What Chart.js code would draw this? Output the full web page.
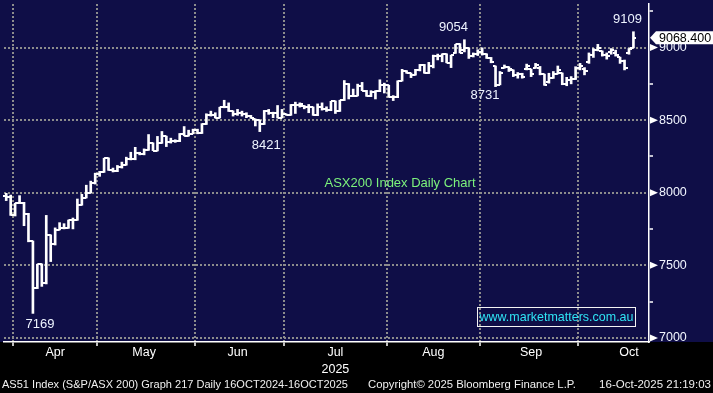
<!DOCTYPE html>
<html>
<head>
<meta charset="utf-8">
<script src="https://cdn.jsdelivr.net/npm/chart.js@4.4.1/dist/chart.umd.min.js"></script>
<style>
  html, body { margin: 0; padding: 0; background: #000; overflow: hidden; }
  #wrap { width: 713px; height: 393px; }
</style>
</head>
<body>
<div id="wrap"><canvas id="chart" width="713" height="393"></canvas></div>
<script>
// trading days shown (ASX), by month
const marDays = [28, 31];
const aprDays = [1, 2, 3, 4, 7, 8, 9, 10, 11, 14, 15, 16, 17, 22, 23, 24, 28, 29, 30];
const mayDays = [1, 2, 5, 6, 7, 8, 9, 12, 13, 14, 15, 16, 19, 20, 21, 22, 23, 26, 27, 28, 29, 30];
const junDays = [2, 3, 4, 5, 6, 10, 11, 12, 13, 16, 17, 18, 19, 20, 23, 24, 25, 26, 27, 30];
const julDays = [1, 2, 3, 4, 7, 8, 9, 10, 11, 14, 15, 16, 17, 18, 21, 22, 23, 24, 25, 28, 29, 30, 31];
const augDays = [1, 4, 5, 6, 7, 8, 11, 12, 13, 14, 15, 18, 19, 20, 21, 22, 25, 26, 27, 28, 29];
const sepDays = [1, 2, 3, 4, 5, 8, 9, 10, 11, 12, 15, 16, 17, 18, 19, 22, 23, 24, 25, 26, 29, 30];
const octDays = [1, 2, 3, 6, 7, 8, 9, 10, 13, 14, 15, 16, 17];

const opens = [
  7975, 7973,
  7844, 7930, 7932, 7855, 7665, 7345, 7508, 7375, 7708, 7644, 7746, 7758, 7758, 7812, 7812, 7916, 7966, 8000, 8066,
  8127, 8143, 8238, 8154, 8147, 8177, 8193, 8229, 8229, 8272, 8268, 8295, 8342, 8290, 8342, 8388, 8347, 8358, 8354, 8404, 8392, 8408,
  8433, 8410, 8472, 8533, 8535, 8517, 8589, 8589, 8562, 8544, 8546, 8544, 8528, 8508, 8499, 8472, 8562, 8551, 8551, 8517,
  8540, 8535, 8601, 8601, 8599, 8589, 8589, 8533, 8589, 8578, 8567, 8630, 8562, 8637, 8750, 8664, 8669, 8737, 8703, 8664, 8692, 8698, 8744,
  8739, 8657, 8657, 8771, 8839, 8823, 8812, 8846, 8880, 8823, 8873, 8940, 8943, 8955, 8895, 8963, 9022, 8985, 8995, 8940, 8955,
  8970, 8955, 8930, 8873, 8745, 8860, 8865, 8845, 8810, 8820, 8850, 8850, 8860, 8860, 8815, 8760, 8790, 8820, 8823, 8750, 8778, 8785,
  8862, 8855, 8900, 8950, 8985, 8975, 8950, 8970, 8965, 8932, 8905, 8960, 9000
];
const highs = [
  7996, 7984,
  7928, 7980, 7934, 7858, 7668, 7508, 7510, 7844, 7710, 7758, 7794, 7787, 7812, 7826, 7957, 7989, 8052, 8080, 8135,
  8147, 8238, 8240, 8170, 8188, 8211, 8245, 8279, 8313, 8279, 8302, 8401, 8344, 8388, 8422, 8390, 8376, 8365, 8408, 8456, 8431, 8438,
  8438, 8476, 8544, 8562, 8551, 8589, 8637, 8619, 8564, 8574, 8562, 8551, 8533, 8508, 8500, 8567, 8574, 8555, 8601, 8574,
  8542, 8608, 8624, 8619, 8601, 8608, 8591, 8612, 8619, 8592, 8630, 8632, 8637, 8773, 8752, 8714, 8748, 8760, 8705, 8703, 8703, 8778, 8755,
  8741, 8669, 8771, 8850, 8841, 8825, 8850, 8884, 8884, 8898, 8948, 8955, 8957, 8957, 8948, 9022, 9027, 9054, 8997, 8963, 8985,
  8998, 8957, 8932, 8873, 8835, 8880, 8868, 8846, 8828, 8823, 8886, 8852, 8891, 8870, 8817, 8823, 8835, 8873, 8825, 8795, 8800, 8868,
  8891, 8862, 8963, 8993, 9022, 8977, 8963, 8993, 8982, 8934, 8914, 8993, 9109
];
const lows = [
  7946, 7844,
  7840, 7926, 7773, 7662, 7169, 7340, 7355, 7372, 7526, 7640, 7744, 7751, 7755, 7751, 7810, 7914, 7964, 7998, 8060,
  8113, 8140, 8154, 8143, 8145, 8170, 8190, 8226, 8227, 8261, 8261, 8292, 8290, 8288, 8340, 8318, 8342, 8347, 8352, 8392, 8390, 8406,
  8406, 8408, 8470, 8528, 8515, 8515, 8585, 8560, 8528, 8533, 8528, 8517, 8512, 8460, 8421, 8470, 8540, 8517, 8515, 8515,
  8533, 8533, 8546, 8590, 8578, 8551, 8533, 8531, 8569, 8560, 8565, 8546, 8560, 8635, 8646, 8662, 8667, 8703, 8664, 8662, 8646, 8696, 8687,
  8657, 8635, 8655, 8769, 8823, 8793, 8810, 8839, 8823, 8821, 8860, 8915, 8902, 8895, 8862, 8960, 8963, 8970, 8925, 8935, 8945,
  8948, 8925, 8895, 8731, 8743, 8858, 8835, 8800, 8789, 8789, 8846, 8800, 8857, 8812, 8740, 8755, 8788, 8818, 8744, 8737, 8750, 8780,
  8846, 8812, 8891, 8932, 8977, 8941, 8920, 8954, 8941, 8891, 8846, 8954, 8998
];
const closes = [
  7973, 7844,
  7928, 7932, 7855, 7665, 7345, 7508, 7375, 7708, 7644, 7746, 7758, 7758, 7812, 7812, 7916, 7966, 8000, 8066, 8127,
  8143, 8238, 8154, 8147, 8177, 8193, 8229, 8229, 8272, 8268, 8295, 8342, 8290, 8342, 8388, 8347, 8358, 8354, 8404, 8392, 8408, 8433,
  8410, 8472, 8533, 8535, 8517, 8589, 8589, 8562, 8544, 8546, 8544, 8528, 8517, 8499, 8472, 8562, 8551, 8551, 8517, 8540,
  8535, 8601, 8601, 8608, 8589, 8589, 8533, 8589, 8578, 8567, 8630, 8562, 8637, 8750, 8664, 8669, 8737, 8703, 8664, 8692, 8698, 8744, 8739,
  8657, 8657, 8771, 8839, 8828, 8812, 8846, 8880, 8823, 8873, 8940, 8943, 8955, 8895, 8950, 9022, 8963, 8995, 8940, 8955, 8970,
  8955, 8930, 8900, 8745, 8828, 8865, 8850, 8810, 8820, 8800, 8870, 8815, 8880, 8815, 8745, 8790, 8820, 8845, 8750, 8778, 8785, 8862,
  8875, 8840, 8950, 8985, 9000, 8950, 8940, 8980, 8950, 8910, 8860, 8990, 9068.4
];

const yTicks = [7000, 7500, 8000, 8500, 9000];
const monthLabels = ['Apr', 'May', 'Jun', ['Jul', '2025'], 'Aug', 'Sep', 'Oct'];
const monthLabelDates = ['14 Apr', '15 May', '16 Jun', '16 Jul', '15 Aug', '16 Sep', '16 Oct'];
const annTexts = ['7169', '8421', '9054', '8731', '9109'];
const annDates = ['7 Apr', '23 Jun', '26 Aug', '4 Sep', '17 Oct'];
const annSides = ['low', 'low', 'high', 'low', 'high'];

const labels = [].concat(
  marDays.map(d => d + ' Mar'), aprDays.map(d => d + ' Apr'), mayDays.map(d => d + ' May'),
  junDays.map(d => d + ' Jun'), julDays.map(d => d + ' Jul'), augDays.map(d => d + ' Aug'),
  sepDays.map(d => d + ' Sep'), octDays.map(d => d + ' Oct')
);
const nBars = labels.length;
// empty slots after the last bar, like the terminal leaves
const allLabels = labels.concat(['', '', '']);
const pad = [null, null, null];

const monthOf = s => s.split(' ')[1];
const isBoundary = i => i > 0 && i < nBars && monthOf(labels[i]) !== monthOf(labels[i - 1]);

const GRID = '#8c8c8c';
const NAVY = '#0f0e47';
const FONT = "'Liberation Sans', Arial, sans-serif";

function tickImage(side) {
  const c = document.createElement('canvas');
  c.width = 6; c.height = 2;
  const g = c.getContext('2d');
  g.fillStyle = '#fff';
  g.fillRect(side === 'open' ? 0 : 3, 0, 3, 2);
  return c;
}

const bgPlugin = {
  id: 'bg',
  beforeDraw(chart) {
    const { ctx, chartArea } = chart;
    ctx.save();
    ctx.fillStyle = '#000';
    ctx.fillRect(0, 0, chart.width, chart.height);
    ctx.fillStyle = NAVY;
    ctx.fillRect(0, 0, chart.width, chartArea.bottom);
    ctx.restore();
  }
};

const overlayPlugin = {
  id: 'overlay',
  afterDraw(chart) {
    const { ctx, chartArea, scales } = chart;
    const x = scales.x, y = scales.y;
    const R = chartArea.right;
    ctx.save();

    // arrow heads at the labelled levels
    ctx.fillStyle = '#fff';
    yTicks.forEach(v => {
      const py = y.getPixelForValue(v);
      ctx.beginPath();
      ctx.moveTo(R + 1, py - 3.5);
      ctx.lineTo(R + 9, py);
      ctx.lineTo(R + 1, py + 3.5);
      ctx.closePath();
      ctx.fill();
    });

    // last price tag
    const last = closes[closes.length - 1];
    const ly = y.getPixelForValue(last);
    ctx.beginPath();
    ctx.moveTo(R + 1, ly);
    ctx.lineTo(R + 7, ly - 6.5);
    ctx.lineTo(chart.width, ly - 6.5);
    ctx.lineTo(chart.width, ly + 6.5);
    ctx.lineTo(R + 7, ly + 6.5);
    ctx.closePath();
    ctx.fill();
    ctx.fillStyle = '#000';
    ctx.font = '12.5px ' + FONT;
    ctx.textBaseline = 'middle';
    ctx.textAlign = 'left';
    ctx.fillText(last.toFixed(3), R + 10, ly + 0.5);

    // high / low call-outs
    const offs = [[7, 11.5], [6.5, 14], [-11, -12], [-10.5, 8.5], [-6, -12]];
    ctx.font = '13px ' + FONT;
    ctx.fillStyle = '#eef4ff';
    ctx.textAlign = 'center';
    annTexts.forEach((t, k) => {
      const i = labels.indexOf(annDates[k]);
      const v = annSides[k] === 'low' ? lows[i] : highs[i];
      ctx.fillText(t, x.getPixelForValue(i) + offs[k][0], y.getPixelForValue(v) + offs[k][1]);
    });

    // title inside the plot
    ctx.fillStyle = '#7cf27c';
    ctx.fillText('ASX200 Index Daily Chart', chartArea.left + 396, 183.5);

    // web address box
    ctx.strokeStyle = '#f4f4f4';
    ctx.lineWidth = 1;
    ctx.strokeRect(477.5, 307.5, 158, 19);
    ctx.fillStyle = '#2fe4f4';
    ctx.fillText('www.marketmatters.com.au', 556.5, 317.5, 154);

    // footer
    ctx.fillStyle = '#f0f0f0';
    ctx.font = '11.5px ' + FONT;
    ctx.textAlign = 'left';
    ctx.fillText('AS51 Index (S&P/ASX 200) Graph 217 Daily 16OCT2024-16OCT2025', 2, 385, 346);
    ctx.fillText('Copyright\u00a9 2025 Bloomberg Finance L.P.', 368, 385, 208);
    ctx.textAlign = 'right';
    ctx.fillText('16-Oct-2025 21:19:03', 711, 385, 116);
    ctx.restore();
  }
};

new Chart(document.getElementById('chart'), {
  type: 'bar',
  data: {
    labels: allLabels,
    datasets: [
      {
        type: 'bar',
        data: lows.map((l, i) => [l, highs[i]]).concat(pad),
        backgroundColor: '#ffffff',
        barThickness: 2,
        grouped: false
      },
      {
        type: 'line',
        data: opens.concat(pad),
        showLine: false,
        pointStyle: tickImage('open'),
        pointRadius: 3,
        pointHoverRadius: 3
      },
      {
        type: 'line',
        data: closes.concat(pad),
        showLine: false,
        pointStyle: tickImage('close'),
        pointRadius: 3,
        pointHoverRadius: 3
      }
    ]
  },
  options: {
    responsive: false,
    animation: false,
    events: [],
    devicePixelRatio: 1,
    layout: { padding: 0 },
    plugins: { legend: { display: false }, tooltip: { enabled: false } },
    scales: {
      x: {
        type: 'category',
        offset: true,
        grid: {
          offset: true,
          color: c => (isBoundary(c.index) ? GRID : 'rgba(0,0,0,0)'),
          lineWidth: 2,
          tickLength: 4,
          tickWidth: 1.5,
          tickColor: c => (isBoundary(c.index) ? '#ffffff' : 'rgba(0,0,0,0)')
        },
        border: { color: '#ffffff', width: 1.5, dash: [2, 2] },
        ticks: {
          autoSkip: false,
          maxRotation: 0,
          minRotation: 0,
          padding: -2,
          color: '#ffffff',
          font: { family: FONT, size: 12.5, lineHeight: 1.36 },
          callback: (v, i) => {
            const k = monthLabelDates.indexOf(allLabels[i]);
            return k >= 0 ? monthLabels[k] : '';
          }
        },
        afterFit: s => { s.height = 51; s.paddingLeft = 0; s.paddingRight = 0; }
      },
      y: {
        position: 'right',
        min: 6972,
        max: 9300,
        grid: {
          color: c => (c.tick && yTicks.includes(c.tick.value) ? GRID : 'rgba(0,0,0,0)'),
          lineWidth: 2,
          tickLength: 4,
          tickWidth: 1.5,
          tickColor: c => (c.tick && !yTicks.includes(c.tick.value) ? '#ffffff' : 'rgba(0,0,0,0)')
        },
        border: { color: '#ffffff', width: 1.5, dash: [2, 2] },
        ticks: {
          stepSize: 250,
          includeBounds: false,
          padding: 6,
          color: '#f2f6ff',
          font: { family: FONT, size: 12.5 },
          callback: v => (yTicks.includes(v) ? String(v) : '')
        },
        afterFit: s => { s.width = 64; s.paddingTop = 0; s.paddingBottom = 0; }
      }
    }
  },
  plugins: [bgPlugin, overlayPlugin]
});
</script>
</body>
</html>
